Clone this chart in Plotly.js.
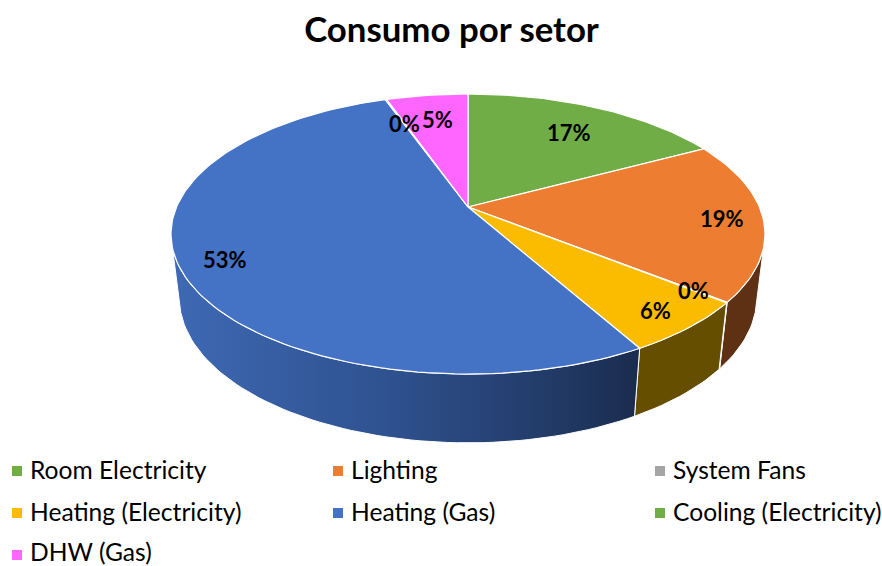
<!DOCTYPE html>
<html>
<head>
<meta charset="utf-8">
<script src="https://cdn.plot.ly/plotly-3.0.1.min.js"></script>
<style>html,body{margin:0;padding:0;background:#fff}#chart{width:882px;height:566px}</style>
</head>
<body>
<div id="chart"></div>
<script>
// Data (percent of consumption)
var categories = ["Room Electricity","Lighting","System Fans","Heating (Electricity)","Heating (Gas)","Cooling (Electricity)","DHW (Gas)"];
var values = [17.2,18.5,0.05,6.1,52.7,0.1,5.35];
var colors = ["#70AD47","#ED7D31","#A5A5A5","#FBBC00","#4472C4","#70AD47","#FF66FF"];
var sideColors = ["#43682A","#5E3114","#636363","#664E00","#2B4A80","#43682A","#993D99"];
var titleText = "Consumo por setor";

// Page-pixel placement of the percentage labels (label text comes from values)
var labelPx = [[568.5,132.5],[722,218.5],[693,290.5],[655,310.5],[224.5,259.5],[404,123.5],[437,119.5]];
var legendCols = [17,338,660], legendRows = [471,513,555], legendTextGap = 11, legendTextLift = [2,2,4];

// Perspective projection of the pie disc: top face and bottom rim
var TOP = {cx:468, cy:207, R:291.4, S:134.8, k:0.193};
var BOT = {cx:468, cy:270, R:283.5, S:140,   k:0.19};
function project(p, deg, r){
  var t = deg*Math.PI/180, u = r*Math.sin(t), v = -r*Math.cos(t), d = 1-p.k*v;
  return [p.cx+p.R*u/d, p.cy+p.S*v/d];
}
function arc(p, a, b){
  var pts = [], n = Math.max(2, Math.ceil(Math.abs(b-a)/1.5)+1);
  for (var i=0;i<n;i++) pts.push(project(p, a+(b-a)*i/(n-1), 1));
  return pts;
}
var total = values.reduce(function(s,v){return s+v;},0);
var angles = [0];
values.forEach(function(v,i){angles.push(angles[i]+v/total*360);});

var traces = [];
var SIDE_FROM = 106.7, SIDE_TO = 253.3; // where the rim meets the silhouette
values.forEach(function(v,i){
  var a = Math.max(angles[i],SIDE_FROM), b = Math.min(angles[i+1],SIDE_TO);
  if (b<=a) return;
  var pts = arc(TOP,a,b).concat(arc(BOT,a,b).reverse());
  pts.push(pts[0]);
  var tr = {type:"scatter",mode:"lines",x:pts.map(function(q){return q[0];}),y:pts.map(function(q){return q[1];}),
    fill:"toself",fillcolor:sideColors[i],line:{color:"#fff",width:1},hoverinfo:"skip",showlegend:false};
  if (categories[i]==="Heating (Gas)") {
    tr.fillgradient = {type:"horizontal",colorscale:[[0,"#3E69B4"],[0.45,"#2F5290"],[0.75,"#243F6E"],[1,"#1A2C4E"]]};
  }
  traces.push(tr);
});
values.forEach(function(v,i){
  var pts = [[TOP.cx,TOP.cy]].concat(arc(TOP,angles[i],angles[i+1]));
  pts.push(pts[0]);
  traces.push({type:"scatter",mode:"lines",x:pts.map(function(q){return q[0];}),y:pts.map(function(q){return q[1];}),
    fill:"toself",fillcolor:colors[i],line:{color:"#fff",width:1.2},name:categories[i],hoverinfo:"name",showlegend:false});
});
// Legend swatches
var legX = categories.map(function(c,i){return legendCols[i%3];});
var legY = categories.map(function(c,i){return legendRows[Math.floor(i/3)];});
traces.push({type:"scatter",mode:"markers",x:legX,y:legY,marker:{symbol:"square",size:10,color:colors},hoverinfo:"skip",showlegend:false});

var annotations = [];
values.forEach(function(v,i){
  annotations.push({x:labelPx[i][0],y:labelPx[i][1],xref:"x",yref:"y",text:Math.round(v)+"%",showarrow:false,
    xanchor:"center",yanchor:"middle",font:{family:"Lato, Carlito, sans-serif",size:22,color:"#000",weight:700}});
  annotations.push({x:legX[i]+legendTextGap,y:legY[i]-legendTextLift[Math.floor(i/3)],xref:"x",yref:"y",text:categories[i],showarrow:false,
    xanchor:"left",yanchor:"middle",font:{family:"Lato, Carlito, sans-serif",size:24.6,color:"#000"}});
});

Plotly.newPlot("chart",traces,{
  width:882,height:566,margin:{l:0,r:0,t:0,b:0},
  paper_bgcolor:"#fff",plot_bgcolor:"#fff",showlegend:false,
  title:{text:titleText,x:451.5/882,xanchor:"center",y:1-30/566,yanchor:"middle",font:{family:"Lato, Carlito, sans-serif",size:34.8,color:"#000",weight:700}},
  xaxis:{range:[0,882],visible:false,fixedrange:true},
  yaxis:{range:[566,0],visible:false,fixedrange:true},
  annotations:annotations
},{displayModeBar:false,staticPlot:true});
</script>
</body>
</html>
